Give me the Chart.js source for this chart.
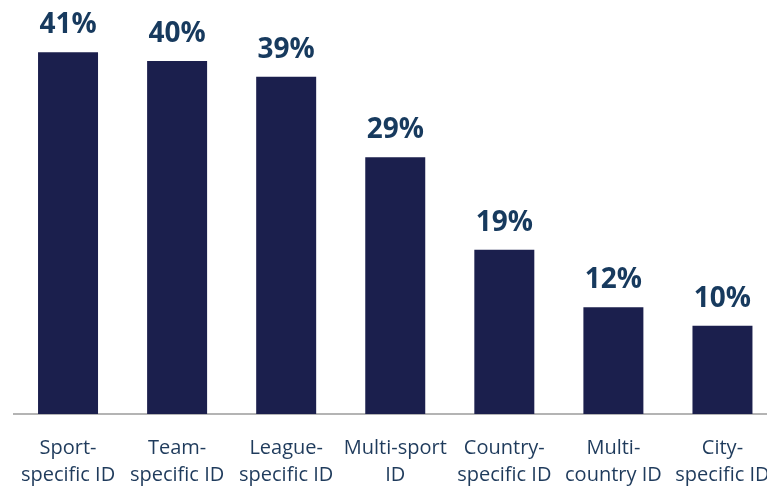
<!DOCTYPE html>
<html>
<head>
<meta charset="utf-8">
<script src="https://cdn.jsdelivr.net/npm/chart.js@4"></script>
<style>
  html, body { margin: 0; padding: 0; background: #ffffff; overflow: hidden; width: 767px; height: 488px; }
  #wrap { width: 767px; height: 488px; overflow: hidden; position: relative; }
  #c { position: absolute; left: 0; top: 0; }
</style>
</head>
<body>
<div id="wrap"><canvas id="c" width="777" height="488"></canvas></div>
<script>
const categories = [
  ["Sport-", "specific ID"],
  ["Team-", "specific ID"],
  ["League-", "specific ID"],
  ["Multi-sport", "ID"],
  ["Country-", "specific ID"],
  ["Multi-", "country ID"],
  ["City-", "specific ID"]
];
const shares = [41.0, 40.0, 38.2, 29.1, 18.6, 12.1, 10.0];
const shareLabels = ["41%", "40%", "39%", "29%", "19%", "12%", "10%"];

const valueLabelPlugin = {
  id: 'valueLabels',
  afterDatasetsDraw(chart) {
    const ctx = chart.ctx;
    const meta = chart.getDatasetMeta(0);
    ctx.save();
    ctx.font = '700 28px "Open Sans", "DejaVu Sans", sans-serif';
    ctx.fillStyle = '#173a5e';
    ctx.textAlign = 'center';
    ctx.textBaseline = 'alphabetic';
    meta.data.forEach((bar, i) => {
      ctx.fillText(shareLabels[i], bar.x, bar.y - 19);
    });
    ctx.restore();
  }
};

new Chart(document.getElementById('c'), {
  type: 'bar',
  data: {
    labels: categories,
    datasets: [{
      data: shares,
      backgroundColor: '#1b1f4d',
      borderWidth: 0,
      categoryPercentage: 1.0,
      barPercentage: 0.55
    }]
  },
  options: {
    responsive: false,
    animation: false,
    events: [],
    layout: { padding: { top: 8, left: 13.5, right: 0, bottom: 0 } },
    plugins: { legend: { display: false }, tooltip: { enabled: false } },
    scales: {
      x: {
        grid: { display: false, drawTicks: false },
        border: { display: true, color: '#b4b4b4', width: 2 },
        afterFit(scale) {
          scale.height = 74;
          scale.paddingLeft = 0;
          scale.paddingRight = 0;
        },
        ticks: {
          color: '#1f3b5c',
          font: { family: '"Open Sans", "DejaVu Sans", sans-serif', size: 20, lineHeight: 1.35 },
          padding: 21,
          maxRotation: 0,
          autoSkip: false
        }
      },
      y: {
        display: false,
        min: 0,
        max: 46
      }
    }
  },
  plugins: [valueLabelPlugin]
});
</script>
</body>
</html>
